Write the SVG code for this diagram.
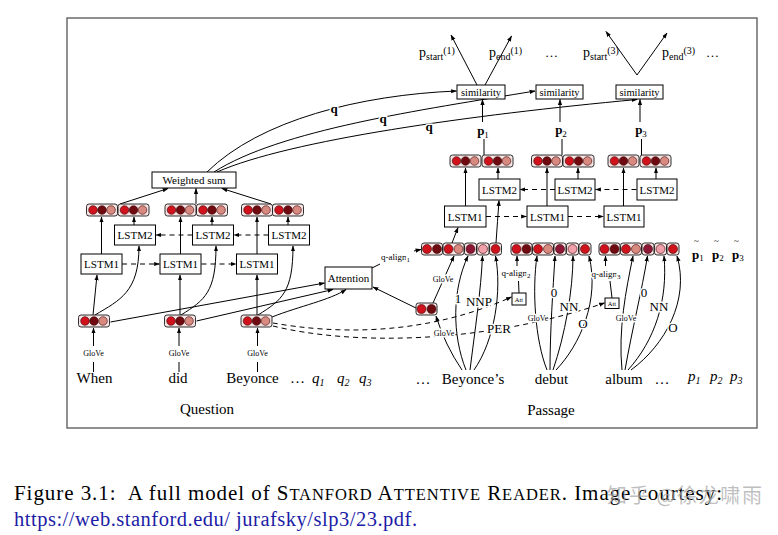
<svg xmlns="http://www.w3.org/2000/svg" width="778" height="535" viewBox="0 0 778 535">
<style>
.t{font-family:"Liberation Serif","Times New Roman",serif;fill:#000}
.box{fill:#fff;stroke:#000;stroke-width:1}
.bl{font-size:11px;text-anchor:middle}
.sl{font-size:10.5px;text-anchor:middle}
.ln{fill:none;stroke:#000;stroke-width:1}
.ar{marker-end:url(#ah)}
.da{stroke-dasharray:5 4}
.cell{fill:#f6e4e4;stroke:#1a1a1a;stroke-width:0.9}
.cr{fill:#d0121c}.cd{fill:#6e0a10}.cs{fill:#d98a80}.cm{fill:#8e1636}.cp{fill:#f0a0aa}
circle{stroke:#3a0505;stroke-width:0.6}
.halo{paint-order:stroke;stroke:#fff;stroke-width:3px;stroke-linejoin:round}
.gl{font-size:8px;text-anchor:middle}
.w{font-size:15px;text-anchor:middle}
.pb{font-size:13px;font-weight:bold;text-anchor:middle}
</style>
<defs>
<marker id="ah" viewBox="0 0 10 10" refX="9" refY="5" markerWidth="6" markerHeight="6" markerUnits="userSpaceOnUse" orient="auto"><path d="M0,1.5 L10,5 L0,8.5 z" fill="#000" stroke="none"/></marker>
<g id="v3"><rect class="cell" x="0" y="0" width="31" height="12" rx="2.5"/><circle class="cr" cx="6.5" cy="6" r="4.3"/><circle class="cd" cx="15.5" cy="6" r="4.3"/><circle class="cs" cx="24.5" cy="6" r="4.3"/></g>
<g id="v2"><rect class="cell" x="0" y="0" width="21" height="12" rx="2.5"/><circle class="cr" cx="5.5" cy="6" r="4.5"/><circle class="cd" cx="15.5" cy="6" r="4.5"/></g>
<g id="row">
<rect class="cell" x="0" y="0" width="21" height="12" rx="2.5"/><circle class="cr" cx="5.5" cy="6" r="4.5"/><circle class="cd" cx="15.5" cy="6" r="4.5"/>
<rect class="cell" x="21.5" y="0" width="21" height="12" rx="2.5"/><circle class="cr" cx="27" cy="6" r="4.5"/><circle class="cs" cx="37" cy="6" r="4.5"/>
<rect class="cell" x="43" y="0" width="12" height="12" rx="2.5"/><circle class="cm" cx="49" cy="6" r="4.5"/>
<rect class="cell" x="55.5" y="0" width="12" height="12" rx="2.5"/><circle class="cp" cx="61.5" cy="6" r="4.5"/>
<rect class="cell" x="68" y="0" width="12" height="12" rx="2.5"/><circle class="cr" cx="74" cy="6" r="4.5"/>
</g>
</defs>
<rect width="778" height="535" fill="#fff"/>
<rect x="67" y="18" width="690" height="410" fill="none" stroke="#555" stroke-width="1.3"/>

<g id="connectors">
<path class="ln ar" d="M93.5,346 L93.5,328"/><path class="ln" d="M93.5,362 L93.5,372"/>
<path class="ln ar" d="M179,346 L179,328"/><path class="ln" d="M179,362 L179,372"/>
<path class="ln ar" d="M257.5,346 L257.5,328"/><path class="ln" d="M257.5,362 L257.5,372"/>
<path class="ln ar" d="M93,315 L97,275"/>
<path class="ln ar" d="M180,315 L180,275"/>
<path class="ln ar" d="M257,315 L257,275"/>
<path class="ln ar" d="M95,315 C120,300 139,292 139,246"/>
<path class="ln ar" d="M181,315 C205,300 216,292 216,246"/>
<path class="ln ar" d="M258,315 C282,300 293,292 293,246"/>
<path class="ln ar" d="M101.5,254 L101.5,217"/>
<path class="ln ar" d="M180.5,254 L180.5,217"/>
<path class="ln ar" d="M257,254 L257,217"/>
<path class="ln ar" d="M134,225 L134,217"/>
<path class="ln ar" d="M212,225 L212,217"/>
<path class="ln ar" d="M288,225 L288,217"/>
<path class="ln ar da" d="M122,264 L159.5,264"/>
<path class="ln ar da" d="M201.5,264 L236,264"/>
<path class="ln ar da" d="M192.5,235 L156,235"/>
<path class="ln ar da" d="M268.5,235 L234,235"/>
<path class="ln ar" d="M120,204 L168,188.5"/>
<path class="ln ar" d="M196,204 L196,188.5"/>
<path class="ln ar" d="M271,204 L222,188.5"/>
<path class="ln ar" d="M110.5,322 L324.5,283"/>
<path class="ln ar" d="M196.5,321 L333,289.5"/>
<path class="ln ar" d="M272,317 C300,306 330,300 346,289.5"/>
<path class="ln ar" d="M416,308 L373,287"/>
<path class="ln" d="M372,268 L380,264"/>
<path class="ln ar" d="M414,251 L421,249.5"/>
<path class="ln ar da" d="M273,323 C330,333 420,338 511.5,297"/>
<path class="ln ar da" d="M273,326 C350,345 480,345 604.5,303"/>
<path class="ln ar" d="M207,172 C260,120 360,95 456.5,91"/>
<path class="ln ar" d="M214,172 C280,130 420,110 535,91"/>
<path class="ln ar" d="M217,172 C290,140 470,115 637,99.5"/>
<path class="ln ar" d="M477,85 L451,35"/>
<path class="ln ar" d="M485,85 L511.5,36"/>
<path class="ln ar" d="M637,75 L606,31.5"/>
<path class="ln ar" d="M637,75 L667,33"/>
<path class="ln ar" d="M482.5,122 L482.5,99.5"/>
<path class="ln ar" d="M560,122 L560,99.5"/>
<path class="ln ar" d="M640,122 L640,99.5"/>
<path class="ln" d="M484,155 L484,139"/>
<path class="ln" d="M562,155 L562,139"/>
<path class="ln" d="M641.5,155 L641.5,139"/>
<path class="ln ar" d="M465.5,206 L465.5,168"/>
<path class="ln ar" d="M547,206 L547,168"/>
<path class="ln ar" d="M623.5,206 L623.5,168"/>
<path class="ln ar" d="M498,179 L498,168"/>
<path class="ln ar" d="M578,179 L578,168"/>
<path class="ln ar" d="M656,179 L656,168"/>
<path class="ln ar da" d="M486,216.5 L526.5,216.5"/>
<path class="ln ar da" d="M568,216.5 L603.5,216.5"/>
<path class="ln ar da" d="M555,189.5 L520,189.5"/>
<path class="ln ar da" d="M636.5,189.5 L595.5,189.5"/>
<path class="ln ar" d="M452,243 L458,227.5"/>
<path class="ln ar" d="M496,243 C497,228 498,215 499,200.5"/>
<path class="ln ar" d="M433,303 L454,256"/>
<path class="ln ar" d="M462,370 Q445,345 436,316"/>
<path class="ln ar" d="M466,370 C452,335 452,290 468,256"/>
<path class="ln ar" d="M470,370 C475,330 481,290 482.5,256"/>
<path class="ln ar" d="M474,370 C495,340 502,290 495.5,256"/>
<path class="ln ar" d="M547,370 C535,340 532,290 537,256"/>
<path class="ln ar" d="M550,370 C550,330 553,290 555,256"/>
<path class="ln ar" d="M553,370 C565,335 573,290 573,256"/>
<path class="ln ar" d="M556,370 C580,345 600,300 589,256"/>
<path class="ln ar" d="M622,370 C618,330 626,290 633,256"/>
<path class="ln ar" d="M625,370 C632,330 642,290 647.5,256"/>
<path class="ln ar" d="M628,370 C655,340 668,300 664,256"/>
<path class="ln ar" d="M631,370 C665,345 690,300 677,256"/>
<path class="ln" d="M519,293 L518.5,281"/>
<path class="ln ar" d="M517,266 L517,256"/>
<path class="ln" d="M612,298 L610,281"/>
<path class="ln ar" d="M605.5,266 L605.5,256"/>
</g>

<g id="weighted-sum"><rect class="box" x="152" y="172" width="84" height="16"/><text class="t bl" x="194" y="184">Weighted sum</text></g>
<g id="q-top-1"><use href="#v3" x="86.5" y="204"/><use href="#v3" x="118" y="204"/></g>
<g id="q-top-2"><use href="#v3" x="165" y="204"/><use href="#v3" x="196.5" y="204"/></g>
<g id="q-top-3"><use href="#v3" x="241.5" y="204"/><use href="#v3" x="272.5" y="204"/></g>
<g id="q-lstm2-1"><rect class="box" x="114.5" y="225" width="41" height="20"/><text class="t bl" x="135" y="239">LSTM2</text></g>
<g id="q-lstm2-2"><rect class="box" x="192.5" y="225" width="41" height="20"/><text class="t bl" x="213" y="239">LSTM2</text></g>
<g id="q-lstm2-3"><rect class="box" x="268.5" y="225" width="41" height="20"/><text class="t bl" x="289" y="239">LSTM2</text></g>
<g id="q-lstm1-1"><rect class="box" x="81" y="254" width="41" height="20"/><text class="t bl" x="101.5" y="268">LSTM1</text></g>
<g id="q-lstm1-2"><rect class="box" x="160" y="254" width="41" height="20"/><text class="t bl" x="180.5" y="268">LSTM1</text></g>
<g id="q-lstm1-3"><rect class="box" x="236.5" y="254" width="41" height="20"/><text class="t bl" x="257" y="268">LSTM1</text></g>
<g id="q-emb-1"><use href="#v3" x="78.5" y="315"/></g>
<g id="q-emb-2"><use href="#v3" x="164.5" y="315"/></g>
<g id="q-emb-3"><use href="#v3" x="241" y="315"/></g>
<g id="q-words">
<text class="t gl" x="93.5" y="356">GloVe</text>
<text class="t gl" x="179" y="356">GloVe</text>
<text class="t gl" x="257.5" y="356">GloVe</text>
<text class="t w" x="94.5" y="383">When</text>
<text class="t w" x="178" y="383">did</text>
<text class="t w" x="252.5" y="383">Beyonce</text>
<text class="t" font-size="15" x="290" y="383">…</text>
<text class="t" font-size="15" font-style="italic" x="312" y="383">q<tspan font-size="10" dy="3">1</tspan></text>
<text class="t" font-size="15" font-style="italic" x="337" y="383">q<tspan font-size="10" dy="3">2</tspan></text>
<text class="t" font-size="15" font-style="italic" x="359" y="383">q<tspan font-size="10" dy="3">3</tspan></text>
<text class="t w" x="207" y="414">Question</text>
</g>
<g id="attention"><rect class="box" x="325" y="267" width="47" height="22"/><text class="t bl" x="348.5" y="282">Attention</text></g>
<g id="q-align-1"><text class="t halo" font-size="9" x="381" y="260">q-align<tspan font-size="7" dy="2">1</tspan></text></g>

<g id="q-labels">
<text class="t halo" font-size="13" font-weight="bold" text-anchor="middle" x="334" y="113">q</text>
<text class="t halo" font-size="13" font-weight="bold" text-anchor="middle" x="383" y="123">q</text>
<text class="t halo" font-size="13" font-weight="bold" text-anchor="middle" x="429" y="131">q</text>
</g>

<g id="sim-1"><rect class="box" x="457" y="85" width="48" height="14"/><text class="t sl" x="481" y="95.5">similarity</text></g>
<g id="sim-2"><rect class="box" x="536" y="85" width="47" height="14"/><text class="t sl" x="559.5" y="95.5">similarity</text></g>
<g id="sim-3"><rect class="box" x="616" y="85" width="47" height="14"/><text class="t sl" x="639.5" y="95.5">similarity</text></g>
<g id="outputs">
<text class="t" font-size="14" x="419" y="57">p<tspan font-size="10" dy="3">start</tspan><tspan font-size="10" dy="-6">(1)</tspan></text>
<text class="t" font-size="14" x="489" y="57">p<tspan font-size="10" dy="3">end</tspan><tspan font-size="10" dy="-6">(1)</tspan></text>
<text class="t" font-size="13" x="545" y="57">…</text>
<text class="t" font-size="14" x="583" y="57">p<tspan font-size="10" dy="3">start</tspan><tspan font-size="10" dy="-6">(3)</tspan></text>
<text class="t" font-size="14" x="662" y="57">p<tspan font-size="10" dy="3">end</tspan><tspan font-size="10" dy="-6">(3)</tspan></text>
<text class="t" font-size="13" x="706" y="57">…</text>
</g>
<g id="p-labels">
<text class="t pb" x="483" y="135">p<tspan font-size="9" font-weight="normal" dy="3">1</tspan></text>
<text class="t pb" x="561" y="134">p<tspan font-size="9" font-weight="normal" dy="3">2</tspan></text>
<text class="t pb" x="641" y="134">p<tspan font-size="9" font-weight="normal" dy="3">3</tspan></text>
</g>

<g id="p-top-1"><use href="#v3" x="450" y="155"/><use href="#v3" x="482" y="155"/></g>
<g id="p-top-2"><use href="#v3" x="531.5" y="155"/><use href="#v3" x="563" y="155"/></g>
<g id="p-top-3"><use href="#v3" x="608" y="155"/><use href="#v3" x="640" y="155"/></g>
<g id="p-lstm2-1"><rect class="box" x="479" y="179" width="41" height="21"/><text class="t bl" x="499.5" y="193.5">LSTM2</text></g>
<g id="p-lstm2-2"><rect class="box" x="555" y="179" width="40" height="21"/><text class="t bl" x="575" y="193.5">LSTM2</text></g>
<g id="p-lstm2-3"><rect class="box" x="637" y="179" width="40" height="21"/><text class="t bl" x="657" y="193.5">LSTM2</text></g>
<g id="p-lstm1-1"><rect class="box" x="444.5" y="206" width="41.5" height="21"/><text class="t bl" x="465.2" y="220.5">LSTM1</text></g>
<g id="p-lstm1-2"><rect class="box" x="527" y="206" width="41" height="21"/><text class="t bl" x="547.5" y="220.5">LSTM1</text></g>
<g id="p-lstm1-3"><rect class="box" x="604" y="206" width="40" height="21"/><text class="t bl" x="624" y="220.5">LSTM1</text></g>
<g id="p-row-1"><use href="#row" x="421.5" y="243"/></g>
<g id="p-row-2"><use href="#row" x="511" y="243"/></g>
<g id="p-row-3"><use href="#row" x="599" y="243"/></g>
<g id="p-tilde">
<text class="t" font-size="9" fill="#777" x="694" y="244">~</text>
<text class="t" font-size="9" fill="#777" x="714" y="244">~</text>
<text class="t" font-size="9" fill="#777" x="734" y="244">~</text>
<text class="t" font-size="13" font-weight="bold" x="692" y="259">p<tspan font-size="9" font-weight="normal" dy="2">1</tspan></text>
<text class="t" font-size="13" font-weight="bold" x="712" y="259">p<tspan font-size="9" font-weight="normal" dy="2">2</tspan></text>
<text class="t" font-size="13" font-weight="bold" x="732" y="259">p<tspan font-size="9" font-weight="normal" dy="2">3</tspan></text>
</g>
<g id="p-small-vec"><use href="#v2" x="416" y="303"/></g>
<g id="att-2"><rect class="box" x="512" y="293" width="14" height="12"/><text class="t" font-size="6.5" text-anchor="middle" x="519" y="301.5">Att</text></g>
<g id="att-3"><rect class="box" x="605" y="298" width="14" height="10.5"/><text class="t" font-size="6.5" text-anchor="middle" x="612" y="305.5">Att</text></g>
<g id="p-labels-edges">
<text class="t gl halo" x="443" y="282">GloVe</text>
<text class="t gl halo" x="444" y="336">GloVe</text>
<text class="t halo" font-size="13" text-anchor="middle" x="458" y="303">1</text>
<text class="t halo" font-size="13" text-anchor="middle" x="479" y="306">NNP</text>
<text class="t halo" font-size="13" text-anchor="middle" x="499" y="333">PER</text>
<text class="t halo" font-size="9" text-anchor="middle" x="516" y="276">q-align<tspan font-size="7" dy="2">2</tspan></text>
<text class="t gl halo" x="538" y="321">GloVe</text>
<text class="t halo" font-size="13" text-anchor="middle" x="554" y="297">0</text>
<text class="t halo" font-size="13" text-anchor="middle" x="569" y="311">NN</text>
<text class="t halo" font-size="13" text-anchor="middle" x="583" y="328">O</text>
<text class="t halo" font-size="9" text-anchor="middle" x="606" y="277">q-align<tspan font-size="7" dy="2">3</tspan></text>
<text class="t gl halo" x="626" y="321">GloVe</text>
<text class="t halo" font-size="13" text-anchor="middle" x="644" y="297">0</text>
<text class="t halo" font-size="13" text-anchor="middle" x="659" y="311">NN</text>
<text class="t halo" font-size="13" text-anchor="middle" x="673" y="332">O</text>
</g>
<g id="p-words">
<text class="t w" x="423" y="384">…</text>
<text class="t w" x="473" y="384">Beyonce’s</text>
<text class="t w" x="551.5" y="384">debut</text>
<text class="t w" x="624" y="384">album</text>
<text class="t w" x="662" y="384">…</text>
<text class="t" font-size="15" font-style="italic" x="688" y="381">p<tspan font-size="10" dy="3">1</tspan></text>
<text class="t" font-size="15" font-style="italic" x="710" y="381">p<tspan font-size="10" dy="3">2</tspan></text>
<text class="t" font-size="15" font-style="italic" x="730" y="381">p<tspan font-size="10" dy="3">3</tspan></text>
<text class="t w" x="551" y="415">Passage</text>
</g>

<g id="caption">
<text class="t" font-size="21" x="14" y="500" style="white-space:pre" textLength="708" lengthAdjust="spacing">Figure 3.1:  A full model of S<tspan font-size="16.5">TANFORD</tspan> A<tspan font-size="16.5">TTENTIVE</tspan> R<tspan font-size="16.5">EADER</tspan>. Image courtesy:</text>
<text font-family="Liberation Serif, serif" font-size="20.5" fill="#1c1ca6" x="14" y="526" textLength="403" lengthAdjust="spacing">https://web.stanford.edu/ jurafsky/slp3/23.pdf.</text>
<text font-family="'Noto Sans CJK SC', sans-serif" font-size="20" fill="#aaaaaa" fill-opacity="0.75" x="607" y="503" textLength="155" lengthAdjust="spacing">知乎 @徐龙啸雨</text>
</g>
</svg>
